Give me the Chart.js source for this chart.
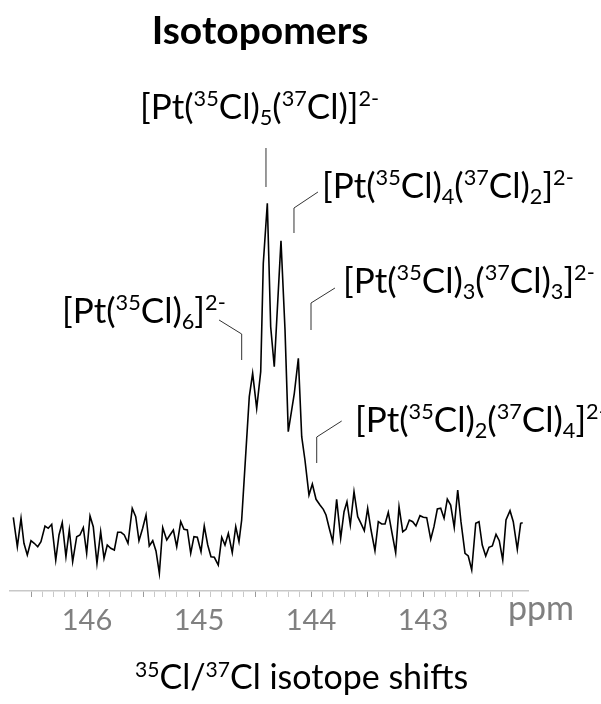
<!DOCTYPE html>
<html>
<head>
<meta charset="utf-8">
<script src="https://cdn.jsdelivr.net/npm/chart.js@4.4.1/dist/chart.umd.min.js"></script>
<style>
  html, body { margin: 0; padding: 0; background: #fff; }
  #wrap { width: 601px; height: 704px; }
</style>
</head>
<body>
<div id="wrap"><canvas id="spec" width="601" height="704"></canvas></div>
<script>
// chemical shift (ppm) and intensity
const ppm = [
  146.658, 146.622, 146.589, 146.563, 146.533, 146.500, 146.471, 146.440, 146.411, 146.375,
  146.346, 146.315, 146.279, 146.250, 146.221, 146.188, 146.158, 146.128, 146.092, 146.063,
  146.033, 146.003, 145.973, 145.944, 145.911, 145.878, 145.848, 145.819, 145.788, 145.756,
  145.726, 145.696, 145.667, 145.634, 145.596, 145.565, 145.536, 145.503, 145.473, 145.444,
  145.413, 145.384, 145.354, 145.324, 145.288, 145.259, 145.229, 145.199, 145.163, 145.134,
  145.104, 145.074, 145.045, 145.015, 144.982, 144.953, 144.922, 144.893, 144.863, 144.828,
  144.797, 144.768, 144.738, 144.703, 144.672, 144.643, 144.619, 144.551, 144.521, 144.485,
  144.449, 144.426, 144.390, 144.360, 144.328, 144.268, 144.232, 144.203, 144.149, 144.113,
  144.083, 144.054, 144.018, 143.988, 143.955, 143.920, 143.890, 143.866, 143.837, 143.806,
  143.771, 143.735, 143.705, 143.679, 143.649, 143.616, 143.583, 143.554, 143.524, 143.494,
  143.464, 143.429, 143.399, 143.369, 143.339, 143.310, 143.279, 143.244, 143.214, 143.181,
  143.152, 143.122, 143.092, 143.063, 143.027, 142.997, 142.967, 142.931, 142.902, 142.872,
  142.842, 142.812, 142.783, 142.753, 142.721, 142.690, 142.661, 142.625, 142.596, 142.565,
  142.529, 142.500, 142.471, 142.440, 142.411, 142.381, 142.348, 142.319, 142.288, 142.259,
  142.223, 142.194, 142.158, 142.128, 142.110
];
const intensity = [
  73.7, 44.3, 72.7, 47.7, 36, 50.3, 47.7, 44.3, 49.3, 65,
  62.7, 66.7, 31, 56, 68.3, 34.3, 61, 29.3, 54.3, 56,
  63.3, 37.7, 75, 64.3, 27.7, 59.3, 32.7, 46, 42.7, 41,
  58.7, 58.7, 56, 47.7, 82.7, 74.3, 50.3, 62.7, 76, 45,
  50.3, 40, 17.7, 63.3, 51, 56, 61, 44.3, 69.3, 61.7,
  61, 37.7, 54.3, 53.7, 39.3, 65, 46, 34.3, 33.7, 26,
  53.7, 46, 57.7, 38.3, 64.3, 49.3, 71, 194.3, 217.7, 182.7,
  219.3, 327.7, 387.7, 264.3, 224.3, 350.3, 261, 159.3, 197.7, 232.7,
  154.3, 131, 96, 107, 91.7, 86, 81.7, 76, 62.7, 49.3,
  91.7, 52.7, 79.3, 89.3, 66, 99.3, 74.3, 67.7, 60.3, 82.7,
  61, 40.3, 69.3, 67, 67, 78.7, 59.3, 38.3, 84.3, 59.3,
  61.7, 71, 69.3, 65, 75.3, 73.7, 73.3, 51.7, 64.3, 82,
  82.7, 72.7, 92, 86, 63.7, 101, 69.3, 37.7, 35, 21,
  67.7, 69.3, 46, 35, 43.7, 45, 56.7, 50.3, 31, 71,
  80.3, 69.3, 41.7, 67.7, 68.3
];
const tickLabels = [146, 145, 144, 143];

const FONT = 'Lato, "Open Sans", sans-serif';

// label pieces: [text, kind] with kind n / sup / sub
const isotopomers = [
  { text: [['[Pt(', 'n'], ['35', 'sup'], ['Cl)', 'n'], ['5', 'sub'], ['(', 'n'], ['37', 'sup'], ['Cl)]', 'n'], ['2-', 'sup']],
    at: [140, 119], line: [[144.402, 443], [144.402, 404]] },
  { text: [['[Pt(', 'n'], ['35', 'sup'], ['Cl)', 'n'], ['4', 'sub'], ['(', 'n'], ['37', 'sup'], ['Cl)', 'n'], ['2', 'sub'], [']', 'n'], ['2-', 'sup']],
    at: [322, 198], line: [[143.938, 399], [144.152, 383], [144.152, 358]] },
  { text: [['[Pt(', 'n'], ['35', 'sup'], ['Cl)', 'n'], ['3', 'sub'], ['(', 'n'], ['37', 'sup'], ['Cl)', 'n'], ['3', 'sub'], [']', 'n'], ['2-', 'sup']],
    at: [343, 293], line: [[143.786, 303], [144.0, 288], [144.0, 261]] },
  { text: [['[Pt(', 'n'], ['35', 'sup'], ['Cl)', 'n'], ['6', 'sub'], [']', 'n'], ['2-', 'sup']],
    at: [62, 323], line: [[144.821, 271], [144.619, 257], [144.619, 231]] },
  { text: [['[Pt(', 'n'], ['35', 'sup'], ['Cl)', 'n'], ['2', 'sub'], ['(', 'n'], ['37', 'sup'], ['Cl)', 'n'], ['4', 'sub'], [']', 'n'], ['2-', 'sup']],
    at: [355, 432], line: [[143.726, 170], [143.949, 154], [143.949, 128]] }
];

function drawRich(ctx, pieces, x, y, size, color, weight) {
  ctx.save();
  ctx.fillStyle = color;
  ctx.textBaseline = 'alphabetic';
  ctx.textAlign = 'left';
  pieces.forEach(([txt, kind]) => {
    let s = size, dy = 0;
    if (kind === 'sup') { s = size * 0.62; dy = -size * 0.36; }
    if (kind === 'sub') { s = size * 0.62; dy = size * 0.16; }
    ctx.font = (weight || '') + ' ' + s + 'px ' + FONT;
    ctx.fillText(txt, x, y + dy);
    x += ctx.measureText(txt).width;
  });
  ctx.restore();
}

const annotate = {
  id: 'annotate',
  afterDraw(chart) {
    const ctx = chart.ctx;
    const xs = chart.scales.x, ys = chart.scales.y;

    // leader lines
    ctx.save();
    ctx.strokeStyle = '#333';
    ctx.lineWidth = 1;
    isotopomers.forEach(a => {
      ctx.beginPath();
      a.line.forEach(([p, v], i) => {
        const px = xs.getPixelForValue(p), py = ys.getPixelForValue(v);
        if (i === 0) ctx.moveTo(px, py); else ctx.lineTo(px, py);
      });
      ctx.stroke();
    });
    ctx.restore();

    isotopomers.forEach(a => drawRich(ctx, a.text, a.at[0], a.at[1], 35, '#000'));

    // title
    ctx.save();
    ctx.font = 'bold 39px ' + FONT;
    ctx.fillStyle = '#000';
    ctx.textAlign = 'center';
    ctx.fillText('Isotopomers', 260, 44);
    ctx.restore();

    // unit label
    ctx.save();
    ctx.font = '34px ' + FONT;
    ctx.fillStyle = '#808080';
    ctx.fillText('ppm', 508, 620);
    ctx.restore();

    drawRich(ctx, [['35', 'sup'], ['Cl/', 'n'], ['37', 'sup'], ['Cl isotope shifts', 'n']], 135, 689, 34, '#000');
  }
};

new Chart(document.getElementById('spec'), {
  type: 'line',
  data: {
    datasets: [{
      data: ppm.map((p, i) => ({ x: p, y: intensity[i] })),
      borderColor: '#000',
      borderWidth: 1.6,
      pointRadius: 0,
      tension: 0,
      fill: false
    }]
  },
  options: {
    responsive: false,
    animation: false,
    layout: { padding: { top: 41, left: 10, right: 73, bottom: 0 } },
    plugins: { legend: { display: false }, tooltip: { enabled: false } },
    scales: {
      x: {
        type: 'linear',
        reverse: true,
        min: 142.0625,
        max: 146.6875,
        afterBuildTicks: s => {
          s.ticks = s.ticks.filter(t => Math.abs(t.value * 10 - Math.round(t.value * 10)) < 1e-6);
        },
        afterFit: s => { s.height = 113; },
        ticks: {
          stepSize: 0.1,
          autoSkip: false,
          maxRotation: 0,
          padding: 6,
          color: '#808080',
          font: { family: FONT, size: 29 },
          callback: v => {
            const r = Math.round(v);
            return (Math.abs(v - r) < 1e-6 && tickLabels.includes(r)) ? String(r) : '';
          }
        },
        grid: {
          drawOnChartArea: false,
          drawTicks: true,
          tickLength: 6,
          color: c => (c.tick && Math.abs(c.tick.value * 2 - Math.round(c.tick.value * 2)) < 1e-6) ? '#9a9a9a' : '#c8c8c8',
          lineWidth: 1
        },
        border: { color: '#c8c8c8', width: 1.5 }
      },
      y: { display: false, min: 0, max: 550 }
    }
  },
  plugins: [annotate]
});
</script>
</body>
</html>
